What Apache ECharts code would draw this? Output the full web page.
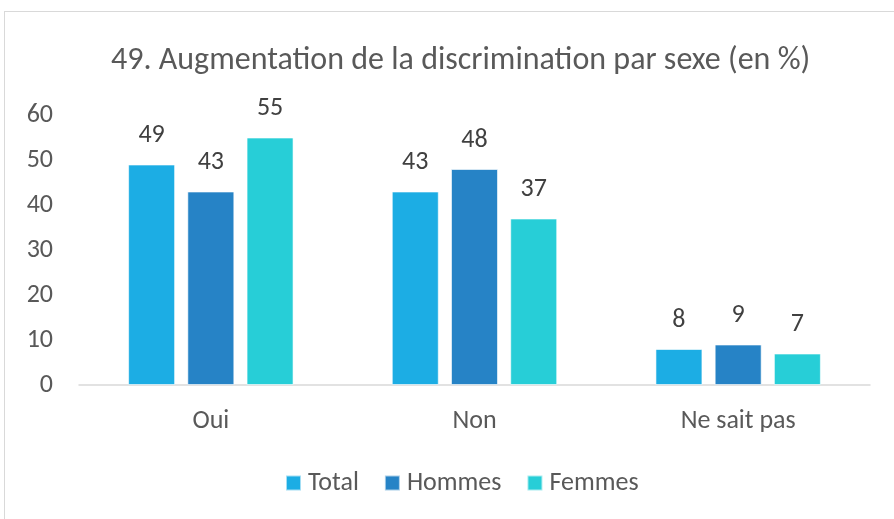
<!DOCTYPE html>
<html>
<head>
<meta charset="utf-8">
<script src="https://cdn.jsdelivr.net/npm/echarts@6/dist/echarts.min.js"></script>
<style>
  html, body { margin: 0; padding: 0; background: #fff; }
  #frame { position: absolute; left: 4px; top: 11px; width: 895px; height: 515px; border: 1px solid #d9d9d9; box-sizing: border-box; }
  #chart { width: 894px; height: 519px; }
</style>
</head>
<body>
<div id="frame"></div>
<div id="chart"></div>
<script>
const categories = ['Oui', 'Non', 'Ne sait pas'];
const seriesNames = ['Total', 'Hommes', 'Femmes'];
const totalValues = [49, 43, 8];
const hommesValues = [43, 48, 9];
const femmesValues = [55, 37, 7];
const yTicks = [0, 10, 20, 30, 40, 50, 60];

const colors = ['#1CADE4', '#2683C6', '#27CED7'];
const font = 'Carlito, "Open Sans", "Noto Sans", sans-serif';

const chart = echarts.init(document.getElementById('chart'));
const valueSets = [totalValues, hommesValues, femmesValues];

chart.setOption({
  animation: false,
  title: {
    text: '49. Augmentation de la discrimination par sexe (en %)',
    left: 106,
    top: 40,
    textStyle: { fontFamily: font, fontSize: 32, fontWeight: 'normal', color: '#595959' }
  },
  legend: {
    data: seriesNames,
    top: 465,
    left: 280,
    itemWidth: 15,
    itemHeight: 15,
    itemGap: 25,
    icon: 'rect',
    textStyle: { fontFamily: font, fontSize: 26, color: '#595959', padding: [0, 0, 0, 2] }
  },
  grid: { left: 79, right: 24, top: 115, bottom: 134 },
  xAxis: {
    type: 'category',
    data: categories,
    axisLine: { lineStyle: { color: '#d9d9d9', width: 1.5 } },
    axisTick: { show: false },
    axisLabel: { fontFamily: font, fontSize: 26, color: '#595959', margin: 23 }
  },
  yAxis: {
    type: 'value',
    min: yTicks[0],
    max: yTicks[yTicks.length - 1],
    interval: 10,
    splitLine: { show: false },
    axisLine: { show: false },
    axisTick: { show: false },
    axisLabel: { fontFamily: font, fontSize: 26, color: '#595959', margin: 26 }
  },
  series: seriesNames.map((name, i) => ({
    name: name,
    type: 'bar',
    data: valueSets[i],
    barWidth: 47,
    barGap: '26%',
    itemStyle: { color: colors[i], borderColor: 'rgba(255,255,255,0.6)', borderWidth: 1 },
    label: {
      show: true,
      position: 'top',
      distance: 16,
      fontFamily: font,
      fontSize: 26,
      color: '#404040'
    }
  }))
});
</script>
</body>
</html>
